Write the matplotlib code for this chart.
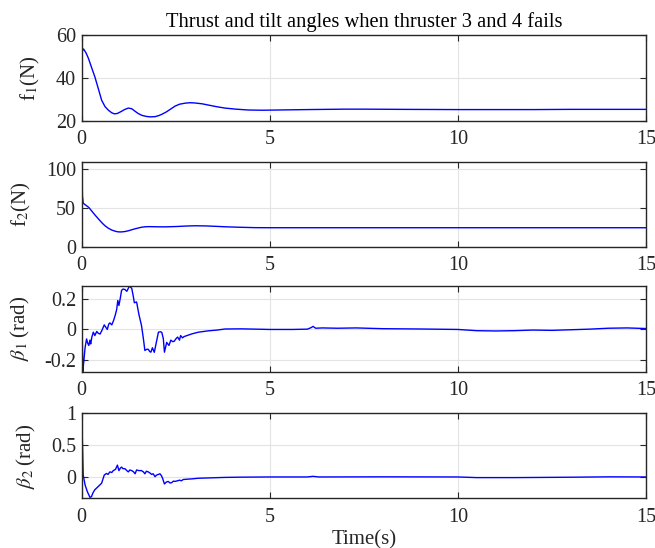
import matplotlib
matplotlib.use("Agg")
import matplotlib.pyplot as plt
import numpy as np

plt.rcParams['font.family'] = ['Liberation Serif', 'DejaVu Serif']
plt.rcParams['mathtext.fontset'] = 'stix'

title = "Thrust and tilt angles when thruster 3 and 4 fails"
xlabel = "Time(s)"
ylabels = [r"f$_1$(N)", r"f$_2$(N)", r"$\beta_1\;$(rad)", r"$\beta_2\;$(rad)"]
xticks = [0, 5, 10, 15]

f1_pts = [(0, 52.0), (0.05, 53.5), (0.12, 51.5), (0.18, 49.1), (0.25, 45.5), (0.35, 40.5),
          (0.45, 34.5), (0.53, 29.6), (0.62, 26.6), (0.71, 24.9), (0.8, 23.7), (0.87, 23.2),
          (0.95, 23.4), (1.05, 24.3), (1.15, 25.3), (1.24, 25.9), (1.33, 25.6), (1.42, 24.4),
          (1.5, 23.4), (1.6, 22.5), (1.72, 22.0), (1.82, 21.8), (1.95, 21.9), (2.05, 22.4),
          (2.13, 23.0), (2.25, 24.1), (2.37, 25.5), (2.48, 26.8), (2.6, 27.7), (2.75, 28.2),
          (2.88, 28.4), (3.0, 28.3), (3.2, 27.9), (3.37, 27.3), (3.6, 26.5), (3.81, 25.9),
          (4.1, 25.4), (4.43, 25.0), (4.8, 24.9), (5.2, 25.0), (6, 25.2), (7, 25.4),
          (7.5, 25.4), (8.5, 25.3), (10, 25.2), (11, 25.2), (12, 25.2), (13, 25.3),
          (14, 25.3), (15, 25.3)]

f2_pts = [(0, 108.0), (0.01, 90.0), (0.02, 65.0), (0.04, 55.7), (0.1, 53.5), (0.19, 50.2),
          (0.27, 45.5), (0.35, 40.8), (0.45, 35.3), (0.55, 30.0), (0.62, 26.8), (0.7, 23.9),
          (0.8, 21.3), (0.9, 19.7), (0.97, 19.0), (1.05, 18.9), (1.15, 19.4), (1.25, 20.5),
          (1.33, 21.7), (1.45, 23.3), (1.58, 24.8), (1.68, 25.5), (1.8, 25.7), (2.0, 25.5),
          (2.2, 25.4), (2.5, 25.8), (2.8, 26.5), (3.01, 26.8), (3.3, 26.6), (3.6, 26.0),
          (3.81, 25.5), (4.2, 24.9), (4.6, 24.4), (5, 24.3), (6, 24.3), (8, 24.3),
          (10, 24.3), (12, 24.3), (15, 24.3)]

beta1_pts = [(0, 0.287), (0.005, 0.1), (0.03, -0.277), (0.06, -0.2), (0.09, -0.12),
             (0.13, -0.062), (0.16, -0.09), (0.19, -0.105), (0.22, -0.07), (0.24, -0.095),
             (0.27, -0.05), (0.31, -0.018), (0.35, -0.04), (0.4, -0.013), (0.44, -0.025),
             (0.49, -0.03), (0.54, -0.005), (0.6, 0.03), (0.64, 0.015), (0.68, 0.0),
             (0.72, 0.035), (0.75, 0.043), (0.8, 0.03), (0.85, 0.06), (0.89, 0.092),
             (0.93, 0.13), (0.96, 0.19), (0.99, 0.157), (1.03, 0.21), (1.06, 0.256),
             (1.1, 0.265), (1.15, 0.262), (1.2, 0.25), (1.24, 0.27), (1.27, 0.284),
             (1.33, 0.27), (1.37, 0.22), (1.4, 0.175), (1.46, 0.18), (1.52, 0.1),
             (1.59, 0.026), (1.64, -0.06), (1.68, -0.138), (1.73, -0.13), (1.77, -0.13),
             (1.81, -0.145), (1.84, -0.149), (1.88, -0.12), (1.93, -0.15), (1.98, -0.09),
             (2.04, -0.018), (2.1, -0.015), (2.13, -0.02), (2.17, -0.06), (2.2, -0.149),
             (2.26, -0.085), (2.32, -0.105), (2.37, -0.07), (2.42, -0.08), (2.46, -0.077),
             (2.51, -0.06), (2.55, -0.05), (2.6, -0.07), (2.63, -0.04), (2.68, -0.055),
             (2.72, -0.047), (2.8, -0.04), (2.93, -0.029), (3.1, -0.018), (3.37, -0.009),
             (3.6, -0.004), (3.81, 0.003), (4.25, 0.004), (5.0, 0.0), (5.6, 0.0),
             (6.0, 0.002), (6.1, 0.012), (6.15, 0.02), (6.22, 0.008), (6.4, 0.01),
             (6.8, 0.008), (7.3, 0.01), (8, 0.005), (9, 0.003), (10, 0.0), (10.5, -0.008),
             (11, -0.01), (11.5, -0.008), (12, -0.004), (12.5, -0.006), (13, -0.002),
             (13.5, 0.002), (14, 0.008), (14.5, 0.01), (15, 0.006)]

beta2_pts = [(0, 1.0), (0.02, 0.55), (0.04, 0.03), (0.09, -0.124), (0.15, -0.23), (0.22, -0.32),
             (0.26, -0.31), (0.3, -0.25), (0.35, -0.2), (0.44, -0.15), (0.53, -0.098),
             (0.6, 0.03), (0.66, 0.055), (0.7, 0.04), (0.75, 0.08), (0.8, 0.07), (0.84, 0.1),
             (0.9, 0.12), (0.95, 0.186), (0.99, 0.1), (1.03, 0.14), (1.06, 0.155), (1.1, 0.13),
             (1.15, 0.13), (1.2, 0.1), (1.24, 0.08), (1.28, 0.11), (1.33, 0.1), (1.38, 0.08),
             (1.42, 0.05), (1.46, 0.11), (1.52, 0.1), (1.59, 0.1), (1.64, 0.08), (1.68, 0.05),
             (1.72, 0.09), (1.77, 0.08), (1.82, 0.06), (1.86, 0.04), (1.9, 0.05), (1.95, 0.005),
             (1.99, 0.03), (2.04, 0.04), (2.08, 0.05), (2.12, 0.02), (2.15, -0.02), (2.2, -0.11),
             (2.25, -0.08), (2.3, -0.07), (2.35, -0.095), (2.39, -0.09), (2.44, -0.065),
             (2.48, -0.07), (2.55, -0.06), (2.6, -0.05), (2.65, -0.06), (2.7, -0.04),
             (2.8, -0.035), (2.93, -0.03), (3.1, -0.02), (3.37, -0.015), (3.8, -0.007),
             (4.25, -0.003), (5, 0.0), (6.0, 0.0), (6.15, 0.01), (6.3, 0.0), (8, 0.002),
             (10, 0.0), (10.5, -0.01), (11.5, -0.01), (12, -0.008), (13, -0.004), (14, 0.002),
             (15, 0.0)]

series = [f1_pts, f2_pts, beta1_pts, beta2_pts]
ylims = [(20, 60), (0, 108), (-0.277, 0.287), (-0.335, 1.0)]
yticks = [[20, 40, 60], [0, 50, 100], [-0.2, 0, 0.2], [0, 0.5, 1]]
yticklabels = [["20", "40", "60"], ["0", "50", "100"], ["-0.2", "0", "0.2"], ["0", "0.5", "1"]]

fig = plt.figure(figsize=(6.55, 5.48), dpi=100)
left, width = 0.1247, 0.8615
bottoms = [0.7797, 0.5498, 0.3217, 0.0907]
heights = [0.1564, 0.1540, 0.1570, 0.1551]
label_x = [42, 33, 32, 38]
edge = '#262626'

axes = []
for i in range(4):
    ax = fig.add_axes([left, bottoms[i], width, heights[i]])
    pts = np.array(series[i])
    ax.plot(pts[:, 0], pts[:, 1], color='#0000ff', lw=1.0)
    ax.set_xlim(0, 15)
    ax.set_ylim(*ylims[i])
    ax.set_xticks(xticks)
    ax.set_xticklabels([str(v) for v in xticks])
    ax.set_yticks(yticks[i])
    ax.set_yticklabels(yticklabels[i])
    ax.grid(True, color='#e3e3e3', lw=0.8)
    ax.set_axisbelow(True)
    for s in ax.spines.values():
        s.set_color(edge)
        s.set_linewidth(1.0)
    ax.tick_params(direction='in', top=True, right=True, length=4.5, width=0.8,
                   colors=edge, labelsize=14.5, labelcolor='#262626')
    ax.tick_params(axis='x', pad=7)
    ax.tick_params(axis='y', pad=4)
    ax.set_ylabel(ylabels[i], fontsize=15, color='#262626')
    ax.yaxis.set_label_coords((label_x[i] - 81.7) / (width * 655), 0.5)
    axes.append(ax)

axes[0].set_title(title, fontsize=14.8, color='#000000', pad=6)
axes[3].set_xlabel(xlabel, fontsize=15, color='#262626', labelpad=2)

fig.savefig("out.png", dpi=100)
